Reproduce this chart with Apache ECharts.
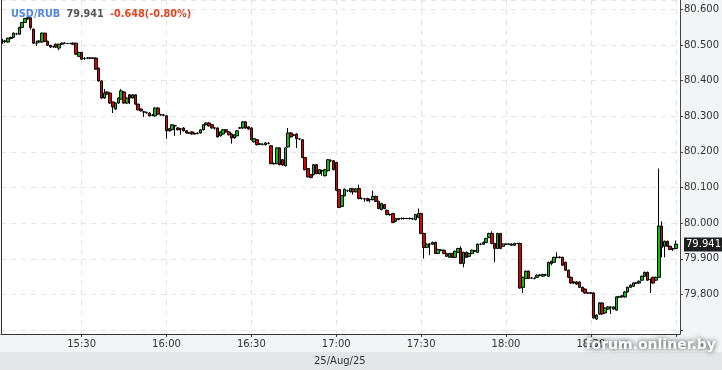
<!DOCTYPE html>
<html><head><meta charset="utf-8">
<script src="https://cdn.jsdelivr.net/npm/echarts@6/dist/echarts.min.js"></script>
<style>html,body{margin:0;padding:0;background:#fff}#c{width:722px;height:370px}</style>
</head><body><div id="c"></div>
<script>
const pairName = 'USD/RUB';
const lastPrice = 79.941;
const changeAbs = '-0.648';
const changePct = '-0.80%';
const dateLabel = '25/Aug/25';
const watermark = 'forum.onliner.by';
const firstMinute = 15 * 60 + 2;   // 15:02
const lastMinute = 19 * 60 + 1;    // 19:01

const opens = [
80.510,80.510,80.508,80.518,80.521,80.531,80.530,80.549,80.563,80.573,
80.576,80.544,80.505,80.508,80.508,80.533,80.510,80.499,80.495,80.502,
80.491,80.502,80.505,80.504,80.504,80.502,80.505,80.468,80.479,80.462,
80.463,80.463,80.463,80.463,80.435,80.399,80.351,80.368,80.365,80.340,
80.320,80.337,80.348,80.368,80.337,80.360,80.351,80.360,80.334,80.320,
80.312,80.310,80.309,80.303,80.301,80.323,80.304,80.303,80.301,80.259,
80.262,80.273,80.267,80.264,80.267,80.259,80.253,80.256,80.251,80.252,
80.253,80.262,80.276,80.281,80.276,80.267,80.267,80.245,80.250,80.262,
80.256,80.250,80.239,80.245,80.267,80.267,80.284,80.270,80.267,80.228,
80.234,80.222,80.221,80.220,80.224,80.217,80.167,80.167,80.211,80.178,
80.161,80.214,80.253,80.247,80.250,80.236,80.234,80.184,80.153,80.136,
80.136,80.164,80.139,80.147,80.133,80.147,80.175,80.175,80.170,80.094,
80.047,80.077,80.091,80.088,80.096,80.088,80.097,80.069,80.068,80.069,
80.066,80.066,80.075,80.061,80.038,80.052,80.036,80.024,80.027,80.005,
80.010,80.013,80.013,80.013,80.013,80.012,80.010,80.016,80.027,79.971,
79.932,79.941,79.941,79.946,79.915,79.924,79.924,79.915,79.904,79.915,
79.904,79.918,79.929,79.887,79.918,79.907,79.915,79.922,79.918,79.941,
79.941,79.946,79.960,79.971,79.943,79.929,79.971,79.935,79.941,79.941,
79.941,79.938,79.943,79.943,79.820,79.845,79.865,79.846,79.845,79.848,
79.854,79.851,79.855,79.851,79.893,79.890,79.904,79.904,79.904,79.890,
79.868,79.848,79.832,79.835,79.835,79.820,79.815,79.804,79.804,79.804,
79.731,79.745,79.776,79.748,79.759,79.764,79.759,79.756,79.793,79.793,
79.793,79.807,79.820,79.823,79.832,79.832,79.840,79.851,79.862,79.842,
79.848,79.840,79.848,79.991,79.935,79.949,79.935,79.928,79.929
];
const closes = [
80.510,80.511,80.519,80.521,80.533,80.531,80.549,80.563,80.574,80.576,
80.549,80.505,80.505,80.511,80.533,80.510,80.499,80.494,80.495,80.494,
80.502,80.505,80.505,80.504,80.504,80.505,80.474,80.479,80.460,80.462,
80.463,80.463,80.463,80.432,80.399,80.351,80.365,80.362,80.337,80.326,
80.337,80.351,80.371,80.337,80.351,80.351,80.360,80.334,80.318,80.315,
80.312,80.310,80.301,80.303,80.323,80.306,80.304,80.303,80.259,80.265,
80.276,80.273,80.262,80.264,80.259,80.253,80.253,80.250,80.251,80.252,
80.262,80.276,80.281,80.273,80.267,80.267,80.242,80.256,80.262,80.256,
80.248,80.239,80.248,80.259,80.267,80.284,80.267,80.264,80.234,80.237,
80.220,80.222,80.221,80.225,80.224,80.167,80.167,80.211,80.164,80.163,
80.211,80.253,80.242,80.247,80.237,80.236,80.184,80.150,80.130,80.128,
80.164,80.139,80.150,80.147,80.150,80.178,80.175,80.150,80.092,80.044,
80.077,80.095,80.091,80.097,80.088,80.096,80.069,80.069,80.068,80.063,
80.066,80.075,80.061,80.041,80.055,80.041,80.024,80.024,80.002,80.013,
80.013,80.013,80.013,80.013,80.013,80.012,80.024,80.027,79.971,79.932,
79.941,79.941,79.946,79.915,79.926,79.924,79.915,79.907,79.915,79.904,
79.921,79.929,79.887,79.918,79.904,79.915,79.924,79.922,79.941,79.941,
79.946,79.957,79.971,79.943,79.929,79.971,79.929,79.941,79.941,79.941,
79.938,79.943,79.943,79.818,79.848,79.865,79.845,79.846,79.845,79.854,
79.854,79.856,79.855,79.890,79.887,79.904,79.904,79.904,79.882,79.868,
79.848,79.832,79.835,79.829,79.820,79.809,79.804,79.804,79.804,79.734,
79.742,79.776,79.745,79.762,79.765,79.764,79.765,79.793,79.793,79.796,
79.807,79.820,79.826,79.832,79.832,79.837,79.851,79.862,79.840,79.842,
79.832,79.848,79.992,79.932,79.949,79.935,79.926,79.928,79.941
];
const lows = [
80.503,80.505,80.506,80.516,80.519,80.528,80.529,80.547,80.562,80.571,
80.543,80.503,80.497,80.505,80.506,80.508,80.497,80.491,80.492,80.492,
80.485,80.500,80.503,80.502,80.502,80.501,80.472,80.466,80.458,80.458,
80.460,80.460,80.461,80.430,80.397,80.349,80.349,80.360,80.335,80.309,
80.318,80.335,80.346,80.335,80.335,80.334,80.349,80.332,80.316,80.313,
80.298,80.307,80.299,80.300,80.299,80.304,80.301,80.300,80.237,80.257,
80.260,80.245,80.260,80.248,80.257,80.251,80.250,80.248,80.248,80.249,
80.251,80.260,80.274,80.271,80.265,80.262,80.240,80.243,80.248,80.254,
80.246,80.223,80.237,80.243,80.264,80.265,80.265,80.262,80.232,80.226,
80.218,80.219,80.218,80.218,80.221,80.165,80.164,80.165,80.162,80.161,
80.159,80.212,80.240,80.244,80.211,80.233,80.182,80.148,80.128,80.126,
80.134,80.137,80.137,80.133,80.131,80.145,80.172,80.148,80.090,80.042,
80.045,80.075,80.088,80.086,80.080,80.086,80.067,80.066,80.060,80.061,
80.058,80.064,80.059,80.039,80.036,80.039,80.022,80.021,80.000,80.003,
80.008,80.010,80.010,80.011,80.010,80.009,80.008,80.014,79.969,79.901,
79.930,79.910,79.939,79.913,79.913,79.921,79.913,79.905,79.902,79.902,
79.902,79.916,79.885,79.876,79.902,79.905,79.913,79.919,79.916,79.938,
79.939,79.944,79.958,79.941,79.890,79.927,79.927,79.933,79.939,79.939,
79.936,79.936,79.941,79.816,79.804,79.843,79.843,79.843,79.842,79.846,
79.851,79.849,79.852,79.849,79.882,79.888,79.901,79.901,79.880,79.866,
79.846,79.830,79.830,79.827,79.818,79.807,79.802,79.801,79.801,79.732,
79.729,79.743,79.743,79.746,79.757,79.745,79.757,79.754,79.790,79.791,
79.791,79.805,79.818,79.821,79.829,79.830,79.838,79.849,79.838,79.804,
79.830,79.838,79.846,79.904,79.904,79.933,79.924,79.922,79.927
];
const highs = [
80.517,80.514,80.520,80.523,80.535,80.534,80.551,80.564,80.576,80.578,
80.577,80.546,80.512,80.513,80.535,80.534,80.512,80.500,80.498,80.504,
80.503,80.507,80.507,80.506,80.506,80.507,80.506,80.481,80.480,80.466,
80.466,80.466,80.465,80.465,80.436,80.400,80.376,80.370,80.367,80.341,
80.338,80.353,80.376,80.370,80.352,80.362,80.362,80.361,80.335,80.322,
80.315,80.313,80.311,80.306,80.325,80.325,80.307,80.306,80.303,80.267,
80.278,80.276,80.269,80.267,80.269,80.261,80.256,80.258,80.254,80.255,
80.264,80.278,80.283,80.283,80.278,80.270,80.269,80.258,80.264,80.264,
80.258,80.252,80.250,80.261,80.270,80.286,80.286,80.272,80.269,80.239,
80.236,80.225,80.224,80.227,80.227,80.219,80.170,80.213,80.213,80.180,
80.213,80.267,80.255,80.250,80.252,80.239,80.236,80.186,80.155,80.138,
80.166,80.166,80.152,80.150,80.152,80.180,80.179,80.177,80.172,80.096,
80.079,80.097,80.094,80.099,80.098,80.098,80.108,80.072,80.071,80.071,
80.069,80.091,80.077,80.063,80.057,80.054,80.038,80.027,80.029,80.015,
80.015,80.016,80.016,80.015,80.016,80.015,80.026,80.041,80.029,79.973,
79.943,79.944,79.948,79.948,79.928,79.927,79.926,79.917,79.917,79.917,
79.923,79.931,79.935,79.920,79.920,79.917,79.926,79.925,79.943,79.944,
79.948,79.959,79.973,79.977,79.945,79.973,79.973,79.943,79.943,79.943,
79.943,79.945,79.945,79.945,79.850,79.867,79.867,79.849,79.848,79.856,
79.857,79.858,79.858,79.892,79.895,79.906,79.918,79.907,79.906,79.892,
79.870,79.850,79.837,79.837,79.837,79.822,79.817,79.807,79.807,79.806,
79.744,79.778,79.778,79.764,79.767,79.767,79.767,79.795,79.796,79.798,
79.809,79.822,79.828,79.834,79.835,79.839,79.853,79.864,79.864,79.845,
79.850,79.850,80.153,80.005,79.951,79.951,79.937,79.931,79.951
];
const yMin = 79.689;
const yMax = 80.626;

const pad = n => (n < 10 ? '0' : '') + n;
const categories = [];
for (let m = firstMinute; m <= lastMinute; m++) categories.push(pad(Math.floor(m / 60)) + ':' + pad(m % 60));
const candles = opens.map((o, i) => [o, closes[i], lows[i], highs[i]]);
const isHalfHour = (idx, val) => /:(00|30)$/.test(val);

const chart = echarts.init(document.getElementById('c'), null, { renderer: 'canvas' });
const FONT = 'DejaVu Sans';
const TS = 9.7;
chart.setOption({
  animation: false,
  backgroundColor: '#f3f4f6',
  textStyle: { fontFamily: FONT },
  title: {
    left: 11, top: 5, padding: 0,
    text: '{a|' + pairName + '} {b|' + lastPrice.toFixed(3) + '} {c|' + changeAbs + '(' + changePct + ')}',
    textStyle: {
      rich: {
        a: { color: '#4f86e6', fontWeight: 'bold', fontSize: TS, fontFamily: FONT },
        b: { color: '#555555', fontWeight: 'bold', fontSize: TS, fontFamily: FONT },
        c: { color: '#e2421d', fontWeight: 'bold', fontSize: TS, fontFamily: FONT }
      }
    }
  },
  grid: { left: 1, right: 40, top: 0, bottom: 36, show: true, backgroundColor: '#ffffff', borderWidth: 0 },
  xAxis: {
    type: 'category', data: categories, boundaryGap: true,
    axisLine: { lineStyle: { color: '#333333', width: 1 } },
    axisTick: { show: true, alignWithLabel: true, interval: isHalfHour, length: 3, lineStyle: { color: '#333333' } },
    axisLabel: { interval: isHalfHour, formatter: v => (v === '19:00' ? '' : v), color: '#333333', fontSize: 10, margin: 5, fontFamily: FONT },
    splitLine: { show: true, interval: isHalfHour, alignWithLabel: true, lineStyle: { color: '#e3e3e3', type: [5, 5] } }
  },
  yAxis: [
    {
      type: 'value', position: 'right', min: yMin, max: yMax, splitNumber: 9,
      axisLine: { show: true, lineStyle: { color: '#444444' } },
      axisTick: { show: true, length: 3, lineStyle: { color: '#444444' } },
      axisLabel: {
        showMinLabel: false, showMaxLabel: false, margin: 4, color: '#333333', fontSize: 10, fontFamily: FONT,
        formatter: v => (v < 79.75 || v > 80.61 ? '' : v.toFixed(3))
      },
      splitLine: { show: true, lineStyle: { color: '#e3e3e3', type: [5, 5] } }
    },
    {
      type: 'value', position: 'left', min: yMin, max: yMax,
      axisLine: { show: true, lineStyle: { color: '#333333' } },
      axisTick: { show: false }, axisLabel: { show: false }, splitLine: { show: false }
    }
  ],
  series: [{
    type: 'candlestick', yAxisIndex: 0, data: candles, barWidth: 3, clip: false,
    itemStyle: { color: '#00c800', color0: '#e00000', borderColor: '#000000', borderColor0: '#000000', borderWidth: 1 },
    markLine: {
      silent: true, animation: false,
      symbol: ['none', 'none'],
      lineStyle: { color: 'rgba(0,0,0,0)', width: 0 },
      label: {
        show: true, position: 'end', distance: 4, formatter: lastPrice.toFixed(3),
        backgroundColor: '#1e1e1e', color: '#ffffff', fontSize: 10, fontFamily: FONT, padding: [2, 2, 2, 2]
      },
      emphasis: { disabled: true },
      data: [{ yAxis: lastPrice }]
    }
  }],
  graphic: [
    { type: 'rect', left: 0, top: 352, shape: { width: 722, height: 18 }, style: { fill: '#e4e5e7' }, z: 50 },
    { type: 'text', left: 314, top: 356, style: { text: dateLabel, fill: '#333333', font: '10px "DejaVu Sans"' }, z: 51 },
    { type: 'text', right: 6, top: 338, style: { text: watermark, fill: '#ffffff', font: 'bold 14px "DejaVu Sans"', textShadowColor: 'rgba(0,0,0,0.85)', textShadowBlur: 5 }, z: 52 }
  ]
});
</script>
</body></html>
